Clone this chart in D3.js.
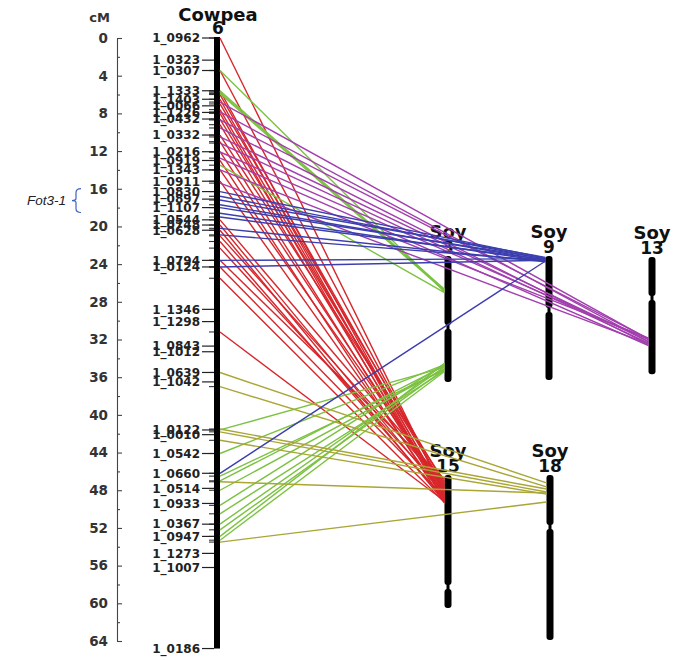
<!DOCTYPE html>
<html><head><meta charset="utf-8">
<script src="https://cdn.jsdelivr.net/npm/d3@7"></script>
<style>body{margin:0;background:#fff;} svg{display:block}</style>
</head><body>
<svg id="c" width="675" height="660"></svg>
<script>
// ---------- data ----------
const axisTicks = [0,4,8,12,16,20,24,28,32,36,40,44,48,52,56,60,64];
const minorTicks = [2,6,10,14,18,22,26,30,34,38,42,46,50,54,58,62];
const markerNames = ["1_0962","1_0323","1_0307","1_1333","1_1403","1_0066","1_1226","1_0432","1_0332",
  "1_0216","1_0919","1_1343","1_0911","1_0830","1_0897","1_1107","1_0544","1_0748","1_0628",
  "1_0794","1_0124","1_1346","1_1298","1_0843","1_1012","1_0639","1_1042","1_0122","1_0010",
  "1_0542","1_0660","1_0514","1_0933","1_0367","1_0947","1_1273","1_1007","1_0186"];
const markerCM = [0,2.35,3.45,5.6,6.5,7.2,7.9,8.6,10.3,
  12.07,13.0,14.0,15.2,16.3,17.1,18.0,19.3,19.85,20.4,
  23.6,24.3,28.8,30.1,32.7,33.3,35.5,36.5,41.6,42.1,
  44.1,46.2,47.8,49.4,51.6,52.9,54.7,56.2,64.8];
const cowpeaLengthCM = 64.8;
const qtlName = "Fot3-1";
const qtlSpanCM = [16.3, 18.2];

const soyNames = ["3","9","13","15","18"];
const soyLengthMb = [47.5, 46.8, 44.2, 50.2, 62.3];
const soyCentromereMb = [26.8, 20.4, 15.5, 42.3, 19.6];

// links: [cowpea cM, soy Mb]
const redLinksSoy15 = [[0,7.5],[3.45,6.0],[5.6,8.5],[6.0,5.0],[6.5,9.5],[7.0,3.5],[7.6,7.0],[8.0,10.0],
  [8.6,4.5],[9.2,8.0],[10.3,2.5],[11.0,9.0],[12.07,6.5],[13.0,10.5],[14.0,5.5],[15.2,8.8],[19.3,3.0],
  [19.85,7.8],[20.4,10.2],[21.0,4.0],[21.6,9.3],[22.3,6.2],[23.6,1.5],[24.3,8.2],[25.5,10.4],[31.2,9.8]];
const purpleLinksSoy13 = [[6.8,31.0],[7.85,32.0],[8.7,30.8],[9.55,33.0],[10.5,31.8],[11.15,32.5],
  [12.1,31.2],[12.75,33.4],[14.0,30.6],[15.4,32.8]];
const blueLinksSoy9 = [[16.3,0.8],[16.8,1.2],[17.2,0.5],[17.7,1.6],[18.0,1.0],[18.6,2.0],[19.0,1.4],
  [20.2,2.2],[20.9,1.8],[23.6,1.0],[24.3,1.6],[46.2,1.9]];
const greenLinksSoy3 = [[3.45,13.5],[5.6,12.6],[5.75,12.9],[5.9,13.2],[13.5,13.8],
  [41.6,42.0],[44.1,41.0],[46.5,43.0],[47.0,41.5],[48.0,42.5],[49.6,40.8],[50.5,43.3],[51.6,41.8],
  [52.2,42.8],[52.9,40.5],[53.3,43.6]];
const oliveLinksSoy18 = [[35.5,3.0],[37.0,4.5],[41.5,5.3],[41.8,6.4],[42.7,7.2],[47.1,6.8],[53.5,10.2]];

// ---------- layout ----------
const svg = d3.select("#c");
const yC = d3.scaleLinear().domain([0,64]).range([38,641]);
const chrX = 214, chrW = 6;
const soyPos = {"3":[448,256],"9":[549,256],"13":[652,257],"15":[448,475],"18":[550,475]};
const pxPerMb = 2.65;
const soyScale = {};
soyNames.forEach((n,i)=>{
  const [x,top] = soyPos[n];
  soyScale[n] = d3.scaleLinear().domain([0,soyLengthMb[i]]).range([top, top+soyLengthMb[i]*pxPerMb]);
});
const bold = "'DejaVu Sans', Verdana, sans-serif";

// axis
const axG = svg.append("g").attr("transform","translate(117,0)");
const ax = d3.axisLeft(yC).tickValues(axisTicks).tickSize(6).tickSizeOuter(0).tickPadding(3);
axG.call(ax);
axG.selectAll(".tick line").attr("x2",5);
const axMinor = d3.axisLeft(yC).tickValues(minorTicks).tickSize(3).tickSizeOuter(0).tickFormat("");
axG.append("g").call(axMinor).call(g=>g.select(".domain").remove()).selectAll(".tick line").attr("x2",3);
axG.selectAll("path,line").attr("stroke","#444").attr("stroke-width",1.1);
axG.selectAll("text").attr("font-family",bold).attr("font-weight","bold").attr("font-size",13.5).attr("fill","#333");
svg.append("text").attr("x",110).attr("y",22).attr("text-anchor","end")
  .attr("font-family",bold).attr("font-weight","bold").attr("font-size",13).attr("fill","#333").text("cM");

// cowpea title
svg.append("text").attr("x",218).attr("y",21).attr("text-anchor","middle")
  .attr("font-family",bold).attr("font-weight","bold").attr("font-size",18).attr("fill","#111").text("Cowpea");
svg.append("text").attr("x",218).attr("y",34).attr("text-anchor","middle")
  .attr("font-family",bold).attr("font-weight","bold").attr("font-size",17).attr("fill","#111").text("6");

// soy chromosomes
soyNames.forEach((n,i)=>{
  const x = soyPos[n][0], s = soyScale[n];
  const g = svg.append("g");
  const top = s(0), bot = s(soyLengthMb[i]), cen = s(soyCentromereMb[i]);
  const w = 7;
  g.append("rect").attr("x",x-w/2).attr("y",top).attr("width",w).attr("height",cen-2-top).attr("rx",3).attr("fill","#000");
  g.append("rect").attr("x",x-w/2).attr("y",cen+2).attr("width",w).attr("height",bot-cen-2).attr("rx",3).attr("fill","#000");
  g.append("rect").attr("x",x-1.5).attr("y",cen-3).attr("width",3).attr("height",6).attr("fill","#000");
  svg.append("text").attr("x",x).attr("y",top-18).attr("text-anchor","middle")
    .attr("font-family",bold).attr("font-weight","bold").attr("font-size",18).attr("fill","#111").text("Soy");
  svg.append("text").attr("x",x).attr("y",top-3).attr("text-anchor","middle")
    .attr("font-family",bold).attr("font-weight","bold").attr("font-size",17).attr("fill","#111").text(n);
});

// cowpea chromosome
svg.append("rect").attr("x",chrX).attr("y",yC(0)-1).attr("width",chrW).attr("height",yC(cowpeaLengthCM)-yC(0)+1).attr("fill","#000");

// loci ticks (all link origins)
const allOrigins = [].concat(redLinksSoy15,purpleLinksSoy13,blueLinksSoy9,greenLinksSoy3,oliveLinksSoy18).map(d=>d[0]);
svg.append("g").selectAll("line").data(allOrigins).join("line")
  .attr("x1",chrX-5).attr("x2",chrX).attr("y1",d=>yC(d)).attr("y2",d=>yC(d))
  .attr("stroke","#333").attr("stroke-width",1.1);

// labeled markers
const mg = svg.append("g");
mg.selectAll("line").data(markerCM).join("line")
  .attr("x1",202).attr("x2",chrX).attr("y1",d=>yC(d)).attr("y2",d=>yC(d))
  .attr("stroke","#222").attr("stroke-width",1.2);
mg.selectAll("text").data(markerNames).join("text")
  .attr("x",200).attr("y",(d,i)=>yC(markerCM[i])).attr("dy","0.36em").attr("text-anchor","end")
  .attr("font-family",bold).attr("font-weight","bold").attr("font-size",12).attr("fill","#222").text(d=>d);

// links
const groups = [
  {links:redLinksSoy15, chr:"15", color:"#d7262b"},
  {links:greenLinksSoy3, chr:"3", color:"#7cc242"},
  {links:oliveLinksSoy18, chr:"18", color:"#a9a636"},
  {links:purpleLinksSoy13, chr:"13", color:"#a23fae"},
  {links:blueLinksSoy9, chr:"9", color:"#3b3eae"}
];
const lg = svg.append("g");
groups.forEach(gr=>{
  const tx = soyPos[gr.chr][0]-3.5, s = soyScale[gr.chr];
  lg.append("g").selectAll("line").data(gr.links).join("line")
    .attr("x1",chrX+chrW).attr("y1",d=>yC(d[0])).attr("x2",tx).attr("y2",d=>s(d[1]))
    .attr("stroke",gr.color).attr("stroke-width",1.4);
});

// QTL annotation
const qy0 = yC(qtlSpanCM[0]), qy1 = yC(qtlSpanCM[1]), qm = (qy0+qy1)/2;
svg.append("text").attr("x",66).attr("y",qm).attr("dy","0.36em").attr("text-anchor","end")
  .attr("font-family","'Liberation Sans', Arial, sans-serif").attr("font-style","italic").attr("font-size",13.5).attr("fill","#222").text(qtlName);
svg.append("path")
  .attr("d",`M81,${qy0-3} Q76,${qy0-3} 76,${qy0+1} L76,${qm-2} Q76,${qm} 72,${qm} Q76,${qm} 76,${qm+2} L76,${qy1-1} Q76,${qy1+3} 81,${qy1+3}`)
  .attr("fill","none").attr("stroke","#3f63c0").attr("stroke-width",1.2);
</script>
</body></html>
